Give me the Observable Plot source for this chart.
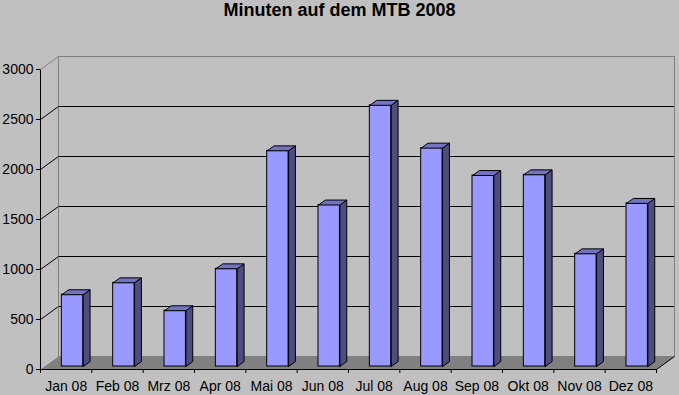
<!DOCTYPE html>
<html>
<head>
<meta charset="utf-8">
<script src="https://cdn.jsdelivr.net/npm/d3@7"></script>
<script src="https://cdn.jsdelivr.net/npm/@observablehq/plot@0.6"></script>
<style>
  html, body { margin: 0; padding: 0; background: #c0c0c0; }
  #wrap { width: 679px; height: 395px; background: #c0c0c0; overflow: hidden; }
  #title { height: 30px; line-height: 26px; text-align: center; font: bold 18px "Liberation Sans", Arial, sans-serif; color: #000; }
  svg { display: block; }
</style>
</head>
<body>
<div id="wrap">
  <div id="title">Minuten auf dem MTB 2008</div>
  <div id="chart"></div>
</div>
<script>
// ---- data ----
const months = ["Jan 08", "Feb 08", "Mrz 08", "Apr 08", "Mai 08", "Jun 08", "Jul 08", "Aug 08", "Sep 08", "Okt 08", "Nov 08", "Dez 08"];
const minutes = [718, 837, 558, 977, 2157, 1615, 2612, 2184, 1910, 1917, 1127, 1631];
const yTicks = [0, 500, 1000, 1500, 2000, 2500, 3000];

// ---- 3D projection constants (in scale units) ----
const DX = 0.3507;   // floor depth, x (band units)
const DY = 130;      // floor depth, y (value units)
const FRONT = 0.77, BACK = 0.39; // bar depth (0 = back wall, 1 = front edge)
const U0 = 0.335, U1 = 0.752;    // bar extent within band
const P = (u, v, d) => ({x: u - d * DX, y: v - d * DY});

const bars = months.map((m, i) => ({i, m, v: minutes[i]}));
const sidePts = bars.flatMap(b => [
  P(b.i + U1, 0, FRONT), P(b.i + U1, b.v, FRONT), P(b.i + U1, b.v, BACK), P(b.i + U1, 0, BACK), P(b.i + U1, 0, FRONT)
].map(p => ({...p, k: b.i})));
const topPts = bars.flatMap(b => [
  P(b.i + U0, b.v, FRONT), P(b.i + U1, b.v, FRONT), P(b.i + U1, b.v, BACK), P(b.i + U0, b.v, BACK), P(b.i + U0, b.v, FRONT)
].map(p => ({...p, k: b.i})));
const n = months.length;
const floorPts = [P(0, 0, 0), P(n, 0, 0), P(n, 0, 1), P(0, 0, 1), P(0, 0, 0)];
const gridTicks = yTicks.filter(t => t > 0 && t < 3000);
const ymax = yTicks[yTicks.length - 1];
const xTickIdx = d3.range(n + 1);

const chart = Plot.plot({
  width: 679,
  height: 365,
  marginLeft: 58,
  marginRight: 5,
  marginTop: 26,
  marginBottom: 39,
  style: {background: "transparent", fontFamily: "'Liberation Sans', Arial, sans-serif", fontSize: "14px", color: "black"},
  x: {type: "linear", domain: [0, n], axis: null},
  y: {type: "linear", domain: [0, ymax], axis: null},
  marks: [
    // back wall gridlines
    Plot.ruleY(gridTicks, {y: d => d, stroke: "black", strokeOpacity: 1}),
    Plot.frame({stroke: "#808080"}),
    // side wall diagonals
    Plot.link(gridTicks, {x1: 0, y1: d => d, x2: -DX, y2: d => d - DY, stroke: "black"}),
    Plot.link([ymax], {x1: 0, y1: d => d, x2: -DX, y2: d => d - DY, stroke: "#808080"}),
    // floor
    Plot.line(floorPts, {x: "x", y: "y", fill: "#808080", stroke: "none"}),
    Plot.link([0], {x1: n, y1: 0, x2: n - DX, y2: -DY, stroke: "black"}),
    // bars
    Plot.rect(bars, {
      x1: d => d.i + U0 - FRONT * DX, x2: d => d.i + U1 - FRONT * DX,
      y1: -FRONT * DY, y2: d => d.v - FRONT * DY,
      fill: "#9999ff", stroke: "black", strokeWidth: 1
    }),
    Plot.line(sidePts, {x: "x", y: "y", z: "k", fill: "#4d4d80", stroke: "black", strokeWidth: 1, strokeLinejoin: "miter"}),
    Plot.line(topPts, {x: "x", y: "y", z: "k", fill: "#7373bf", stroke: "black", strokeWidth: 1, strokeLinejoin: "miter"}),
    // front axes
    Plot.link([0], {x1: -DX, y1: -DY, x2: n - DX, y2: -DY, stroke: "black"}),
    Plot.link([0], {x1: -DX, y1: -DY, x2: -DX, y2: ymax - DY, stroke: "black"}),
    Plot.ruleY(yTicks, {y: d => d - DY, x1: -DX - 0.08, x2: -DX, stroke: "black"}),
    Plot.ruleX(xTickIdx, {x: d => d - DX, y1: -DY, y2: -DY - 40, stroke: "black"}),
    Plot.text(yTicks, {x: -DX, y: d => d - DY, text: d => String(d), textAnchor: "end", dx: -7, lineAnchor: "middle", fill: "black"}),
    Plot.text(bars, {x: d => d.i + 0.5 - DX, y: -DY, text: "m", lineAnchor: "bottom", dy: 21, fill: "black"})
  ]
});
document.getElementById("chart").appendChild(chart);
</script>
</body>
</html>
